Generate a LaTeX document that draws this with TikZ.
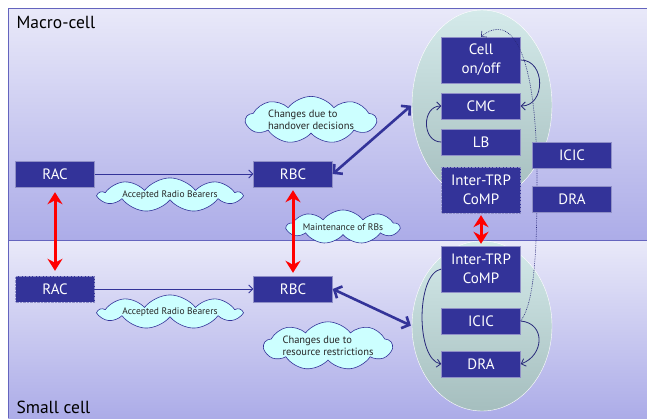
\documentclass[tikz,border=0pt]{standalone}
\usepackage{fontspec}
\setmainfont{PT Sans}
\usetikzlibrary{positioning, shapes.geometric, shapes.symbols, arrows.meta}

\definecolor{boxblue}{RGB}{51,51,153}
\definecolor{panelline}{RGB}{100,100,190}
\definecolor{paneltop}{RGB}{233,233,249}
\definecolor{panelbot}{RGB}{172,172,232}
\definecolor{elltop}{RGB}{212,234,234}
\definecolor{ellbot}{RGB}{165,190,190}
\definecolor{cloudfill}{RGB}{204,255,255}

\begin{document}
\begin{tikzpicture}[x=1pt, y=-1pt, on grid,
  func/.style={draw=boxblue!55!white, line width=0.4pt, fill=boxblue, text=white, minimum width=79pt, minimum height=26pt, inner sep=0pt, align=center, font=\fontsize{15}{19}\selectfont},
  tall/.style={func, minimum height=46pt},
  bubble/.style={cloud, cloud puffs=9, cloud puff arc=105, cloud ignores aspect, draw=boxblue, fill=cloudfill, line width=0.6pt, inner sep=0pt, align=left, text=black!85, font=\fontsize{9.5}{12}\selectfont},
  pool/.style={ellipse, draw=white, inner sep=0pt, top color=elltop, bottom color=ellbot},
  feed/.style={draw=boxblue, line width=0.8pt, -{Straight Barb[length=4pt,width=8pt]}},
  hop/.style={draw=boxblue!80!black, line width=0.8pt, -{Straight Barb[length=4pt,width=8pt]}},
  link/.style={draw=boxblue, line width=2.6pt, {Straight Barb[length=6pt,width=13pt]}-{Straight Barb[length=6pt,width=13pt]}},
  sync/.style={draw=red, line width=3pt, {Stealth[length=12pt,width=15pt]}-{Stealth[length=12pt,width=15pt]}}
]
\useasboundingbox (0,0) rectangle (647,418);

% Panels
\fill[white] (0,0) rectangle (647,418);
\shade[top color=paneltop, bottom color=panelbot] (8,8) rectangle (647,240);
\shade[top color=paneltop, bottom color=panelbot] (8,240) rectangle (647,418);
\draw[panelline] (647,8) -- (8,8) -- (8,418);
\draw[panelline] (8,240) -- (647,240);
\node[anchor=west, font=\fontsize{17.5}{20}\selectfont] (macro) at (13,22) {Macro-cell};
\node[anchor=west, font=\fontsize{17.5}{20}\selectfont] (small) at (13,407) {Small cell};

\node[pool, minimum width=140pt, minimum height=190pt] (ellm) at (482,105) {};
\node[pool, minimum width=140pt, minimum height=170pt] (ells) at (482,326) {};

% Clouds
\node[bubble, minimum width=130pt, minimum height=34pt, font=\fontsize{10.5}{12.5}\selectfont] (handover) at (311,120) {Changes due to\\handover decisions};
\node[bubble, minimum width=142pt, minimum height=32pt] (accm) at (170,195) {Accepted Radio Bearers};
\node[bubble, minimum width=112pt, minimum height=34pt] (maint) at (343,227) {Maintenance of RBs};
\node[bubble, minimum width=142pt, minimum height=34pt] (accs) at (170,312) {Accepted Radio Bearers};
\node[bubble, minimum width=128pt, minimum height=40pt, font=\fontsize{10.5}{12.5}\selectfont] (resource) at (328,346) {Changes due to\\resource restrictions};

% Functions
\node[func] (racm) at (55,174) {RAC};
\node[func, right=238pt of racm] (rbcm) {RBC};
\node[func, densely dotted, below=115pt of racm] (racs) {RAC};
\node[func, right=238pt of racs] (rbcs) {RBC};
\node[tall] (cell) at (481,60) {Cell\\on/off};
\node[func, below=46pt of cell] (cmc) {CMC};
\node[func, below=36pt of cmc] (lb) {LB};
\node[tall, densely dotted, below=48pt of lb] (compm) {Inter-TRP\\CoMP};
\node[tall, below=79pt of compm] (comps) {Inter-TRP\\CoMP};
\node[func, below=52pt of comps] (icics) {ICIC};
\node[func, below=43pt of icics] (dras) {DRA};

\coordinate (dotmid) at (537,180);
\draw[hop, densely dotted, line width=0.6pt] (icics.east) .. controls +(15,-20) and +(0,60) .. (dotmid)
  .. controls +(0,-130) and +(30,-25) .. (cell.north);

\node[func] (icicm) at (572,155) {ICIC};
\node[func, below=44pt of icicm] (dram) {DRA};

% Arrows
\draw[feed] (racm) -- (rbcm);
\draw[feed] (racs) -- (rbcs);
\draw[link, shorten >=1pt] (rbcm.east) -- (ellm.west);
\draw[link, shorten >=1pt] (rbcs.east) -- (ells.west);
\foreach \a/\b/\s in {racm/racs/5, rbcm/rbcs/3, compm/comps/2} {
  \draw[sync, shorten <=\s pt, shorten >=\s pt] (\a.south) -- (\b.north);
}
\draw[hop] (cell.east) to[out=0, in=0, looseness=1.4] (cmc.east);
\draw[hop] (lb.west) to[out=180, in=180, looseness=1.4] (cmc.west);
\draw[hop] (comps.west) to[out=190, in=170, looseness=0.7] (dras.west);
\draw[hop] (icics.east) to[out=-5, in=20, looseness=1.5] (dras.east);
\end{tikzpicture}
\end{document}
